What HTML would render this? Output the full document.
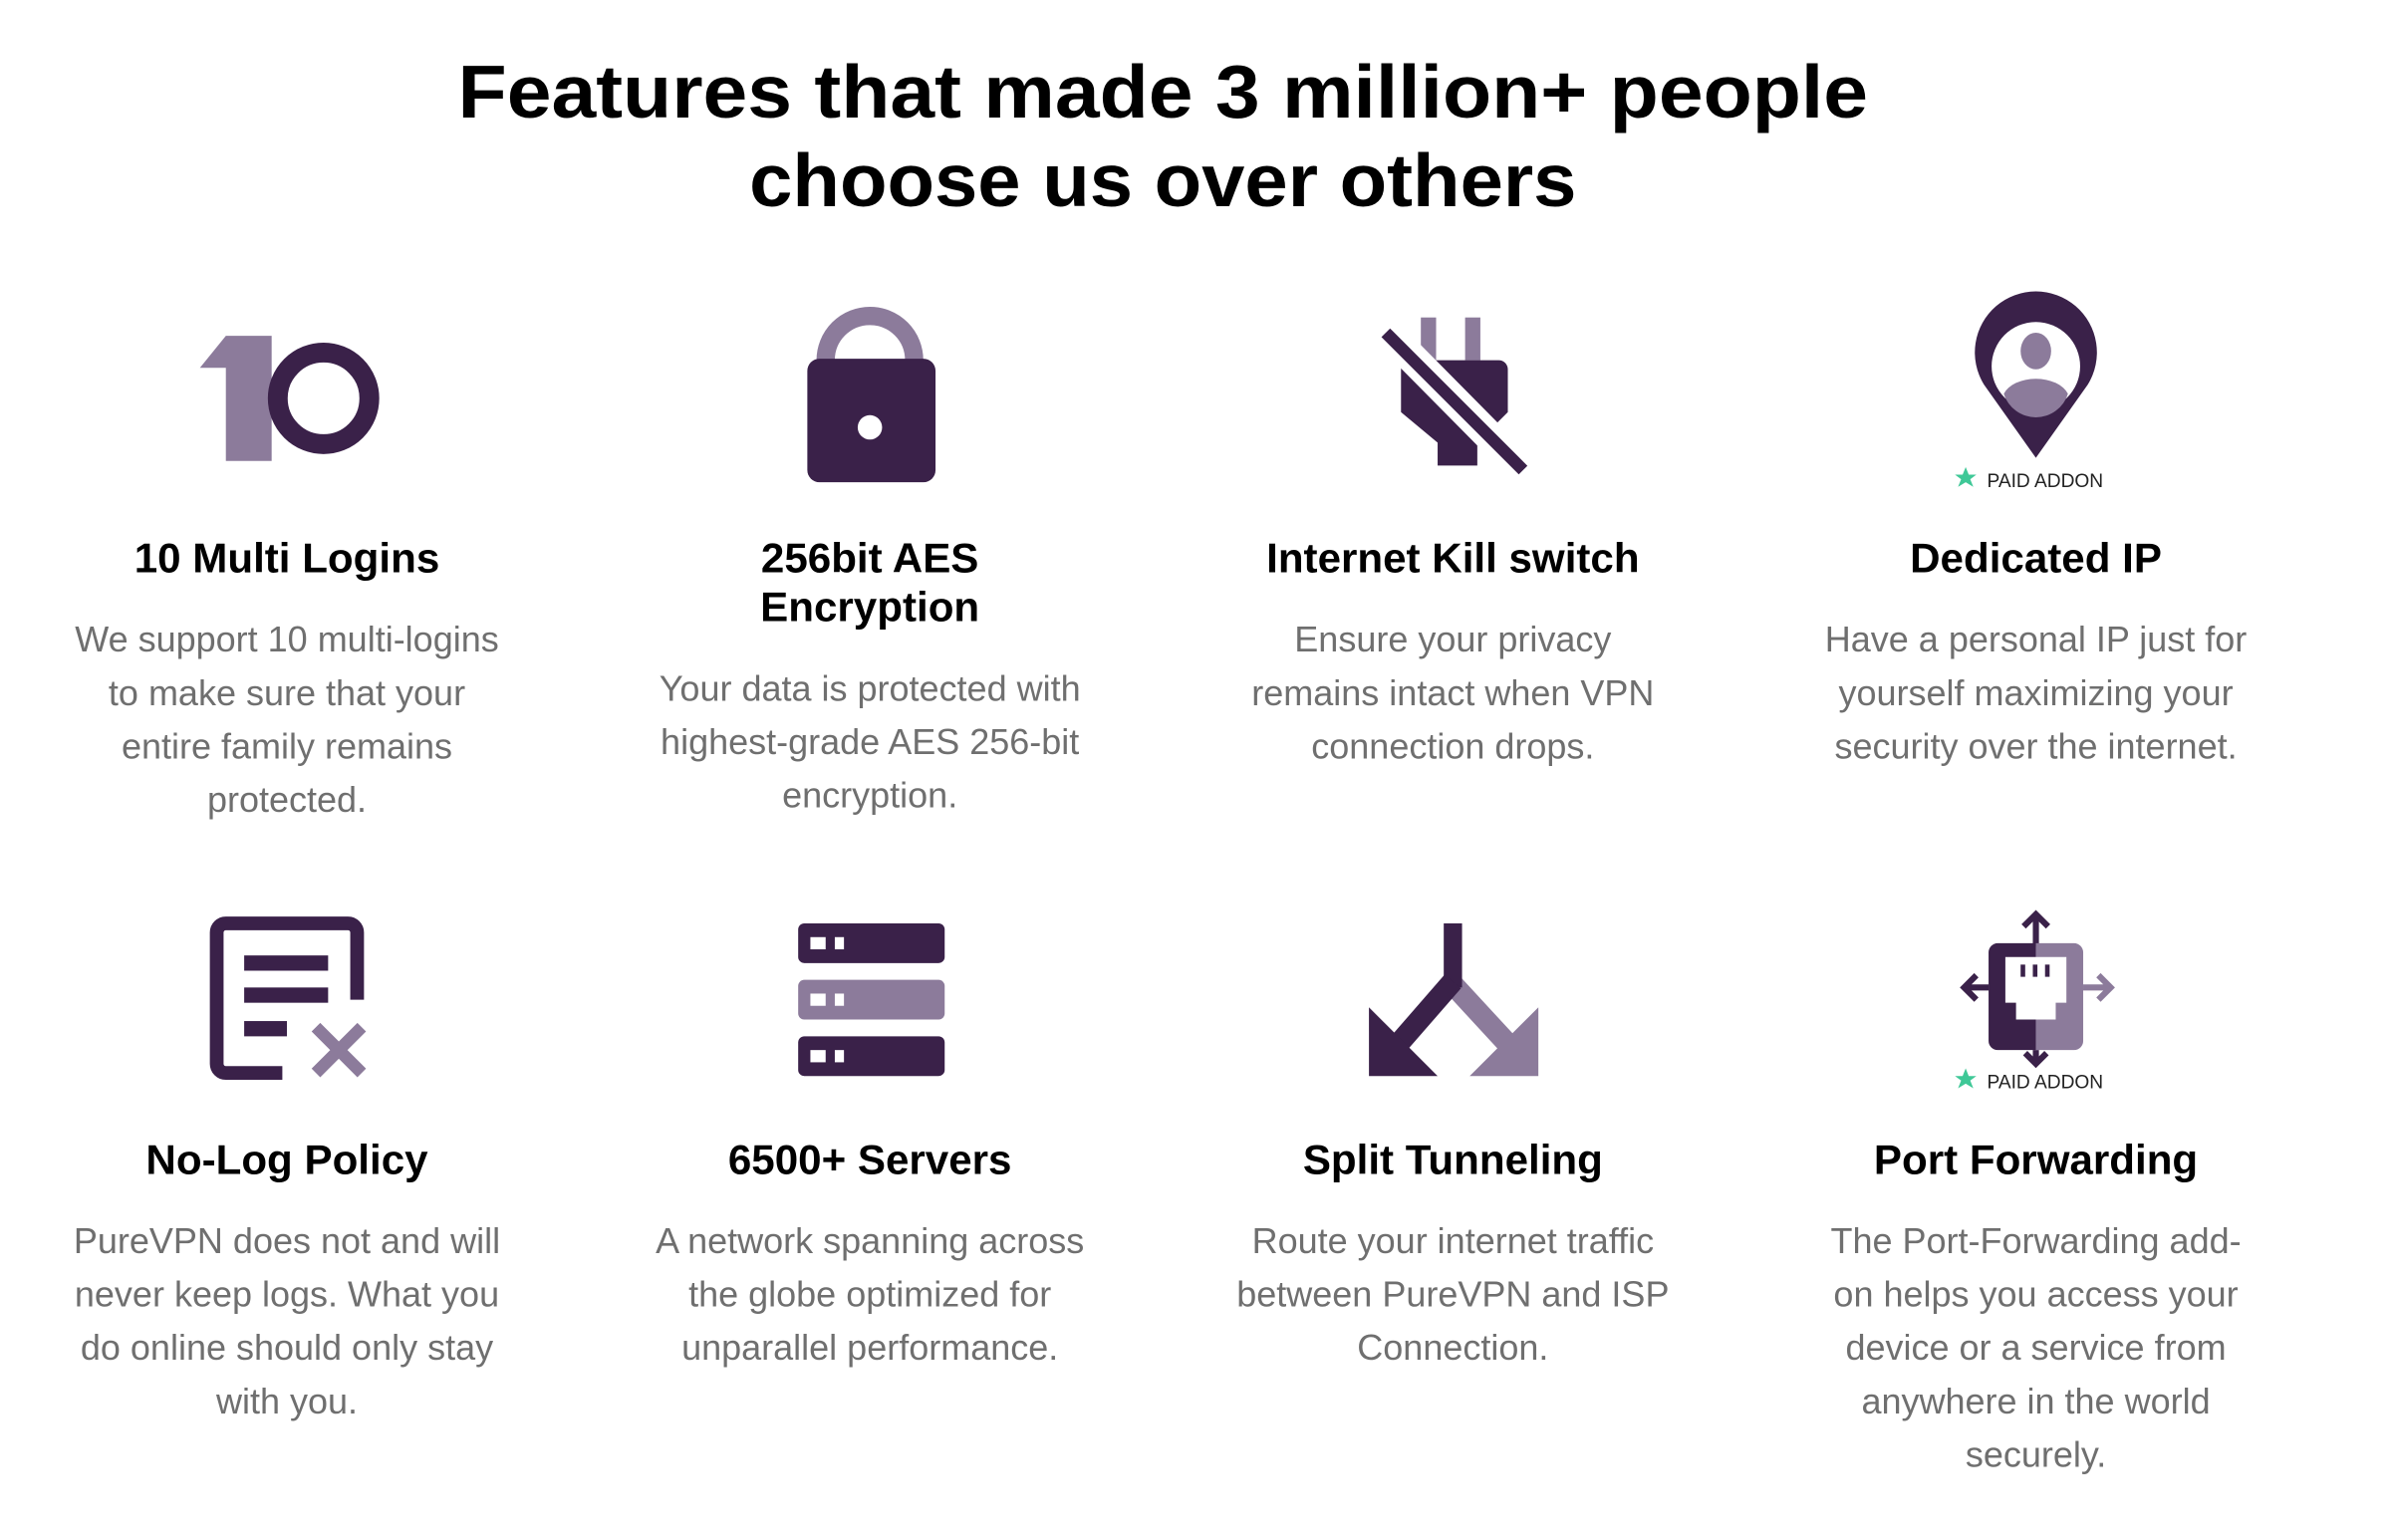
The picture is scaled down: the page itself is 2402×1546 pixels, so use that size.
<!DOCTYPE html>
<html><head><meta charset="utf-8"><style>
html,body{margin:0;padding:0;background:#fff;}
svg{display:block;}
.t{font-family:"Liberation Sans",sans-serif;font-weight:bold;fill:#000;}
.h{font-family:"Liberation Sans",sans-serif;font-weight:bold;fill:#000;font-size:27.5px;}
.d{font-family:"Liberation Sans",sans-serif;fill:#6f6f6f;font-size:23.5px;}
.p{font-family:"Liberation Sans",sans-serif;fill:#222;font-size:12.5px;}
</style></head><body>
<svg width="2402" height="1546" viewBox="0 0 1568 1009" preserveAspectRatio="none">
<text class="t" x="762" y="77" font-size="49" text-anchor="middle" textLength="924" lengthAdjust="spacingAndGlyphs">Features that made 3 million+ people</text>
<text class="t" x="762" y="135" font-size="49" text-anchor="middle" textLength="542" lengthAdjust="spacingAndGlyphs">choose us over others</text>

<!-- icon 1: 10 -->
<polygon points="131,241 148,220 178,220 178,302 148,302 148,241" fill="#8c7b9b"/>
<circle cx="212" cy="261" r="30" fill="none" stroke="#3a2149" stroke-width="13"/>
<!-- icon 2: lock -->
<path d="M541,240 V236 A29,29 0 0 1 599,236 V240" fill="none" stroke="#8c7b9b" stroke-width="12"/>
<rect x="529" y="235" width="84" height="81" rx="8" fill="#3a2149"/>
<circle cx="570" cy="280" r="8" fill="#fff"/>
<!-- icon 3: kill switch -->
<rect x="931" y="208" width="10" height="28" fill="#8c7b9b"/>
<rect x="960" y="208" width="10" height="28" fill="#8c7b9b"/>
<path d="M918,236 H982 A6,6 0 0 1 988,242 V270 L968,290 V305 H942 V290 L918,270 Z" fill="#3a2149"/>
<line x1="903" y1="212" x2="1002" y2="312" stroke="#fff" stroke-width="20"/>
<line x1="908" y1="218" x2="998" y2="308" stroke="#3a2149" stroke-width="8"/>
<!-- icon 4: pin -->
<path d="M1334,300 L1300,252 A40,40 0 1 1 1368,252 Z" fill="#3a2149"/>
<circle cx="1334" cy="240" r="29" fill="#fff"/>
<ellipse cx="1334" cy="230" rx="10" ry="12" fill="#8c7b9b"/>
<path d="M1313,258 A22,14 0 0 1 1355,258 A22,22 0 0 1 1313,258Z" fill="#8c7b9b"/>
<polygon points="1288,306 1290,311 1295,311 1291,314 1293,319 1288,316 1283,319 1285,314 1281,311 1286,311" fill="#3fc897"/>
<text class="p" x="1302" y="319">PAID ADDON</text>

<!-- icon 5: no-log -->
<path d="M185,703 H148 A6,6 0 0 1 142,697 V611 A6,6 0 0 1 148,605 H228 A6,6 0 0 1 234,611 V655" fill="none" stroke="#3a2149" stroke-width="9"/>
<rect x="160" y="626" width="55" height="10" fill="#3a2149"/>
<rect x="160" y="647" width="55" height="10" fill="#3a2149"/>
<rect x="160" y="669" width="28" height="10" fill="#3a2149"/>
<path d="M207,673 L237,703 M237,673 L207,703" stroke="#8c7b9b" stroke-width="8"/>
<!-- icon 6: servers -->
<rect x="523" y="605" width="96" height="26" rx="4" fill="#3a2149"/>
<rect x="523" y="642" width="96" height="26" rx="4" fill="#8c7b9b"/>
<rect x="523" y="679" width="96" height="26" rx="4" fill="#3a2149"/>
<g fill="#fff"><rect x="531" y="614" width="10" height="8"/><rect x="547" y="614" width="6" height="8"/><rect x="531" y="651" width="10" height="8"/><rect x="547" y="651" width="6" height="8"/><rect x="531" y="688" width="10" height="8"/><rect x="547" y="688" width="6" height="8"/></g>
<!-- icon 7: split tunneling -->
<line x1="952" y1="645" x2="1000" y2="697" stroke="#8c7b9b" stroke-width="14"/>
<polygon points="1008,660 1008,705 963,705" fill="#8c7b9b"/>
<rect x="946" y="605" width="12" height="42" fill="#3a2149"/>
<line x1="952" y1="643" x2="905" y2="697" stroke="#3a2149" stroke-width="14"/>
<polygon points="897,660 897,705 942,705" fill="#3a2149"/>
<!-- icon 8: port forwarding -->
<g stroke-width="4" fill="none">
<path d="M1334,620 V599 M1326,607 L1334,599 L1342,607" stroke="#3a2149"/>
<path d="M1334,688 V697 M1327,690 L1334,697 L1341,690" stroke="#3a2149"/>
<path d="M1303,647 H1287 M1295,639 L1287,647 L1295,655" stroke="#3a2149"/>
<path d="M1365,647 H1383 M1375,639 L1383,647 L1375,655" stroke="#8c7b9b"/>
</g>
<path d="M1334,618 H1309 A6,6 0 0 0 1303,624 V682 A6,6 0 0 0 1309,688 H1334 Z" fill="#3a2149"/>
<path d="M1334,618 H1359 A6,6 0 0 1 1365,624 V682 A6,6 0 0 1 1359,688 H1334 Z" fill="#8c7b9b"/>
<path d="M1314,627 H1354 V657 H1347 V668 H1321 V657 H1314 Z" fill="#fff"/>
<g fill="#3a2149"><rect x="1324" y="632" width="3" height="8"/><rect x="1332" y="632" width="3" height="8"/><rect x="1340" y="632" width="3" height="8"/></g>
<polygon points="1288,700 1290,705 1295,705 1291,708 1293,713 1288,710 1283,713 1285,708 1281,705 1286,705" fill="#3fc897"/>
<text class="p" x="1302" y="713">PAID ADDON</text>

<!-- row 1 text -->
<g text-anchor="middle">
<text class="h" x="188" y="375">10 Multi Logins</text>
<text class="d" x="188" y="427">We support 10 multi-logins</text>
<text class="d" x="188" y="462">to make sure that your</text>
<text class="d" x="188" y="497">entire family remains</text>
<text class="d" x="188" y="532">protected.</text>

<text class="h" x="570" y="375">256bit AES</text>
<text class="h" x="570" y="407">Encryption</text>
<text class="d" x="570" y="459">Your data is protected with</text>
<text class="d" x="570" y="494">highest-grade AES 256-bit</text>
<text class="d" x="570" y="529">encryption.</text>

<text class="h" x="952" y="375">Internet Kill switch</text>
<text class="d" x="952" y="427">Ensure your privacy</text>
<text class="d" x="952" y="462">remains intact when VPN</text>
<text class="d" x="952" y="497">connection drops.</text>

<text class="h" x="1334" y="375">Dedicated IP</text>
<text class="d" x="1334" y="427">Have a personal IP just for</text>
<text class="d" x="1334" y="462">yourself maximizing your</text>
<text class="d" x="1334" y="497">security over the internet.</text>

<!-- row 2 text -->
<text class="h" x="188" y="769">No-Log Policy</text>
<text class="d" x="188" y="821">PureVPN does not and will</text>
<text class="d" x="188" y="856">never keep logs. What you</text>
<text class="d" x="188" y="891">do online should only stay</text>
<text class="d" x="188" y="926">with you.</text>

<text class="h" x="570" y="769">6500+ Servers</text>
<text class="d" x="570" y="821">A network spanning across</text>
<text class="d" x="570" y="856">the globe optimized for</text>
<text class="d" x="570" y="891">unparallel performance.</text>

<text class="h" x="952" y="769">Split Tunneling</text>
<text class="d" x="952" y="821">Route your internet traffic</text>
<text class="d" x="952" y="856">between PureVPN and ISP</text>
<text class="d" x="952" y="891">Connection.</text>

<text class="h" x="1334" y="769">Port Forwarding</text>
<text class="d" x="1334" y="821">The Port-Forwarding add-</text>
<text class="d" x="1334" y="856">on helps you access your</text>
<text class="d" x="1334" y="891">device or a service from</text>
<text class="d" x="1334" y="926">anywhere in the world</text>
<text class="d" x="1334" y="961">securely.</text>
</g>
</svg>
</body></html>
